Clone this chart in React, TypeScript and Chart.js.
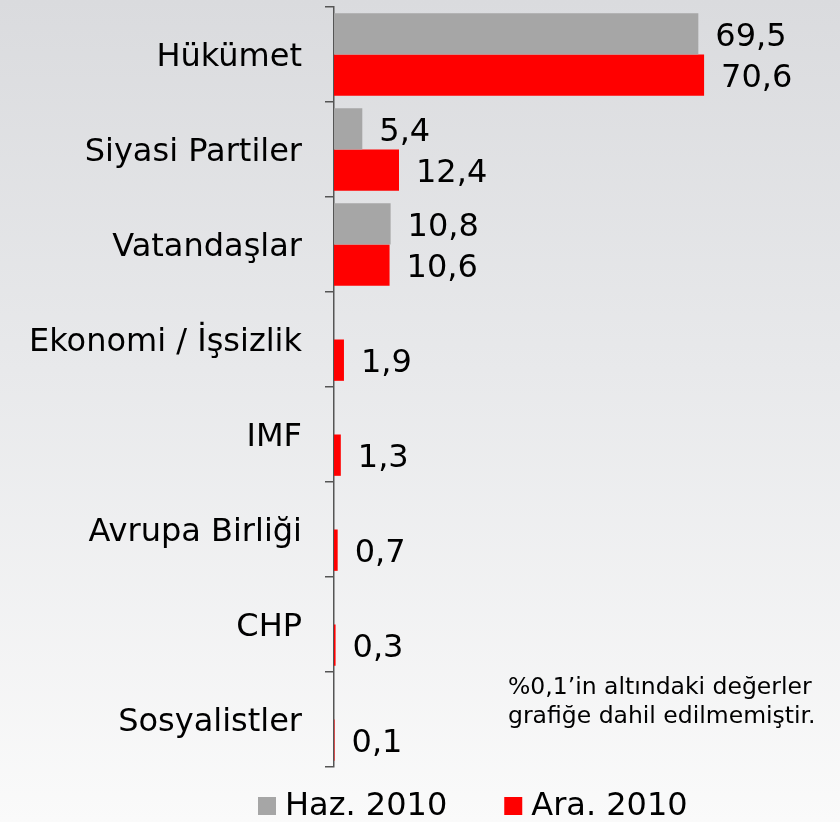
import React, { useEffect, useRef } from "react";
import { Chart, registerables } from "chart.js";

Chart.register(...registerables);

const categories = [
  "Hükümet",
  "Siyasi Partiler",
  "Vatandaşlar",
  "Ekonomi / İşsizlik",
  "IMF",
  "Avrupa Birliği",
  "CHP",
  "Sosyalistler",
];
const seriesNames = ["Haz. 2010", "Ara. 2010"];
const haz2010 = [69.5, 5.4, 10.8, null, null, null, null, null];
const ara2010 = [70.6, 12.4, 10.6, 1.9, 1.3, 0.7, 0.3, 0.1];
const seriesColors = ["#a6a6a6", "#ff0000"];
const noteLines = ["%0,1’in altındaki değerler", "grafiğe dahil edilmemiştir."];
const xMax = 95;

const FONT = "'DejaVu Sans', Verdana, sans-serif";

const fmt = (v: number) => v.toFixed(1).replace(".", ",");

const backgroundPlugin = {
  id: "bgPlugin",
  beforeDraw(chart: any) {
    const { ctx, width, height } = chart;
    ctx.save();
    const g = ctx.createLinearGradient(0, 0, 0, height);
    g.addColorStop(0, "#dadbde");
    g.addColorStop(0.45, "#e8e9eb");
    g.addColorStop(1, "#fafafa");
    ctx.fillStyle = g;
    ctx.fillRect(0, 0, width, height);
    ctx.restore();
  },
};

const valueLabelPlugin = {
  id: "valueLabels",
  afterDatasetsDraw(chart: any) {
    const { ctx } = chart;
    ctx.save();
    ctx.font = `32px ${FONT}`;
    ctx.fillStyle = "#000";
    ctx.textAlign = "left";
    ctx.textBaseline = "middle";
    chart.data.datasets.forEach((ds: any, di: number) => {
      const meta = chart.getDatasetMeta(di);
      meta.data.forEach((el: any, i: number) => {
        const v = ds.data[i];
        if (v === null || v === undefined) return;
        ctx.fillText(fmt(v), el.x + 17, el.y + 4);
      });
    });
    ctx.restore();
  },
};

const legendPlugin = {
  id: "customLegend",
  afterDraw(chart: any) {
    const { ctx } = chart;
    ctx.save();
    ctx.font = `32px ${FONT}`;
    ctx.textBaseline = "middle";
    ctx.textAlign = "left";
    let x = 258;
    const yc = 806;
    chart.data.datasets.forEach((ds: any) => {
      ctx.fillStyle = ds.backgroundColor;
      ctx.fillRect(x, yc - 9, 18, 18);
      ctx.fillStyle = "#000";
      ctx.fillText(ds.label, x + 27, yc + 1);
      const w = ctx.measureText(ds.label).width;
      x = x + 27 + w + 57;
    });
    ctx.restore();
  },
};

const notePlugin = {
  id: "notePlugin",
  afterDraw(chart: any) {
    const { ctx } = chart;
    ctx.save();
    ctx.font = `23.5px ${FONT}`;
    ctx.fillStyle = "#000";
    ctx.textAlign = "left";
    ctx.textBaseline = "middle";
    noteLines.forEach((line, i) => {
      ctx.fillText(line, 508, 688 + i * 29);
    });
    ctx.restore();
  },
};

export default function App() {
  const ref = useRef<HTMLCanvasElement | null>(null);

  useEffect(() => {
    document.body.style.margin = "0";
    const canvas = ref.current;
    if (!canvas) return;
    const chart = new Chart(canvas, {
      type: "bar",
      data: {
        labels: categories,
        datasets: [
          {
            label: seriesNames[0],
            data: haz2010 as any,
            backgroundColor: seriesColors[0],
            barPercentage: 1,
            categoryPercentage: 0.87,
          },
          {
            label: seriesNames[1],
            data: ara2010,
            backgroundColor: seriesColors[1],
            barPercentage: 1,
            categoryPercentage: 0.87,
          },
        ],
      },
      options: {
        indexAxis: "y",
        responsive: false,
        animation: false,
        layout: { padding: { top: 7, right: 8, bottom: 55, left: 0 } },
        plugins: {
          legend: { display: false },
          tooltip: { enabled: false },
        },
        scales: {
          x: {
            display: false,
            min: 0,
            max: xMax,
          },
          y: {
            grid: {
              display: true,
              drawOnChartArea: false,
              drawTicks: true,
              tickLength: 9,
              color: "#555555",
              lineWidth: 1.5,
              offset: true,
            },
            border: { display: true, color: "#555555", width: 1.5 },
            ticks: {
              font: { family: FONT, size: 32 },
              color: "#000",
              padding: 23,
              labelOffset: 3,
            },
            afterFit: (scale: any) => {
              scale.width = 334;
              scale.paddingTop = 0;
              scale.paddingBottom = 0;
            },
          },
        },
      },
      plugins: [backgroundPlugin, valueLabelPlugin, legendPlugin, notePlugin],
    } as any);
    return () => chart.destroy();
  }, []);

  return (
    <canvas ref={ref} width={840} height={822} style={{ display: "block" }} />
  );
}
